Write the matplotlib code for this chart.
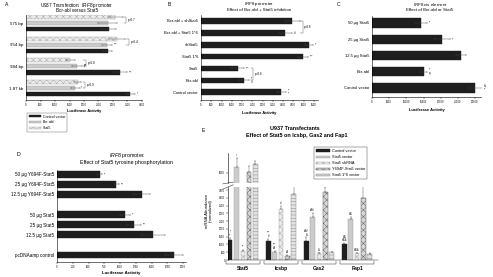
import numpy as np
import matplotlib.pyplot as plt
from matplotlib.patches import Patch

plt.rcParams['font.family'] = ['Liberation Sans', 'DejaVu Sans']
plt.rcParams['mathtext.fontset'] = 'custom'
plt.rcParams['mathtext.rm'] = 'Liberation Sans'
plt.rcParams['mathtext.it'] = 'Liberation Sans:italic'
plt.rcParams['mathtext.bf'] = 'Liberation Sans:bold'
plt.rcParams['hatch.linewidth'] = 0.3
plt.rcParams['axes.linewidth'] = 0.4

# ---- panel A: IRF8 promoter constructs, Bcr-abl vs Stat5
a_constructs = ['575 bp', '954 bp', '984 bp', '1.87 kb']
a_stat5 = [3080, 3140, 1530, 1790]
a_stat5_err = [250, 280, 150, 120]
a_bcr = [2815, 2790, 1760, 1700]
a_bcr_err = [320, 180, 180, 150]
a_ctrl = [2850, 2815, 3250, 3600]
a_ctrl_err = [250, 150, 250, 150]
a_pvals = ['p=0.7', 'p=0.4', 'p=0.8', 'p=0.9']

# ---- panel B: Bcr-abl + Stat5 inhibition
b_labels = ['Bcr-abl + shStat5', 'Bcr-abl + Stat5 1*6', 'shStat5', 'Stat5 1*6',
            'Stat5', 'Bcr-abl', 'Control vector']
b_values = [4450, 4110, 5260, 4970, 1780, 2090, 3920]
b_err = [350, 330, 200, 250, 300, 250, 200]
b_marks = ['', '#', '**', '***', '***', '*\n#', '*\n**']

# ---- panel C: IRF8 cis element
c_labels = ['50 µg Stat5', '25 µg Stat5', '12.5 µg Stat5', 'Bcr-abl', 'Control vector']
c_values = [14200, 20300, 25900, 15000, 30000]
c_err = [1800, 2400, 1500, 1000, 2000]
c_marks = ['*', '**', '', '*\n§', '&\n**']

# ---- panel D: Stat5 tyrosine phosphorylation
d_labels = ['50 µg Y694F-Stat5', '25 µg Y694F-Stat5', '12.5 µg Y694F-Stat5',
            '50 µg Stat5', '25 µg Stat5', '12.5 µg Stat5', 'pcDNAamp control']
d_values = [677, 942, 1339, 1074, 1222, 1524, 1852]
d_err = [40, 40, 140, 80, 110, 190, 140]
d_marks = ['*', '**', '', '*', '**', '', '']

# ---- panel E: mRNA abundance in U937 transfectants
e_genes = ['Stat5', 'Icsbp', 'Gas2', 'Fap1']
e_series = ['Control vector', 'Stat5 vector', 'Stat5 shRNA',
            'Y694F-Stat5 vector', 'Stat5 1*6 vector']
e_control = [1300, 1240, 1200, 1040]
e_control_err = [100, 120, 250, 60]
e_stat5 = [6300, 540, 2760, 2670]
e_stat5_err = [450, 60, 240, 80]
e_shrna = [610, 3260, 430, 430]
e_shrna_err = [50, 200, 30, 50]
e_y694f = [6050, 260, 4390, 3980]
e_y694f_err = [300, 50, 280, 800]
e_1x6 = [6450, 4240, 500, 370]
e_1x6_err = [150, 540, 30, 50]
e_marks = [['*\n**', '*', '**', '', ''],
           ['***\n#', '***\n##', '#', '##', ''],
           ['###\n&', '###', '&', '', ''],
           ['&&\n&&&', '&&', '&&&', '', '']]

W, H = 493, 277
fig = plt.figure(figsize=(W / 100, H / 100), dpi=100)


def box(x0, y0, x1, y1):
    return [x0 / W, 1 - y1 / H, (x1 - x0) / W, (y1 - y0) / H]


def style_h(ax, xmax, step, fs=3.0):
    ax.set_xlim(0, xmax)
    ax.set_xticks(np.arange(0, xmax + 1, step))
    ax.tick_params(axis='x', labelsize=1.9, length=1.2, width=0.3, pad=1)
    ax.tick_params(axis='y', labelsize=fs, length=0, pad=2)
    for s in ['top', 'right']:
        ax.spines[s].set_visible(False)


STY = {
    'black': dict(color='#1e1e1e', edgecolor='#1e1e1e', lw=0.3),
    'gray': dict(color='#cbcbcb', edgecolor='#9a9a9a', lw=0.3),
    'check': dict(color='#ececec', edgecolor='#a0a0a0', hatch='xxxxx', lw=0.3),
    'cross': dict(color='#d6d6d6', edgecolor='#555555', hatch='xxxxx', lw=0.3),
    'lines': dict(color='#e2e2e2', edgecolor='#808080', hatch='-----', lw=0.3),
}
ERR = dict(elinewidth=0.3, capsize=0.8, capthick=0.3, ecolor='#444444')

# ================= A =================
ax = fig.add_axes(box(26, 15, 142, 100))
y = np.arange(len(a_constructs))
off = 0.28
ax.barh(y - off, a_stat5, height=0.19, xerr=a_stat5_err, error_kw=ERR, **STY['check'])
ax.barh(y, a_bcr, height=0.19, xerr=a_bcr_err, error_kw=ERR, **STY['gray'])
ax.barh(y + off, a_ctrl, height=0.19, xerr=a_ctrl_err, error_kw=ERR, **STY['black'])
ax.set_yticks(y)
ax.set_yticklabels(a_constructs)
ax.set_ylim(3.55, -0.37)
style_h(ax, 4000, 500, fs=3.2)
ax.set_xlabel('Luciferase Activity', fontsize=2.8, fontweight='bold', labelpad=1.5)
for i in range(len(a_constructs)):
    xb = max(a_stat5[i] + a_stat5_err[i], a_bcr[i] + a_bcr_err[i]) + 120
    ax.plot([xb - 80, xb, xb, xb - 80], [y[i] - off, y[i] - off, y[i], y[i]],
            color='#555', lw=0.3, clip_on=False)
    ax.text(xb + 60, y[i] - off / 2, a_pvals[i], fontsize=2.2, va='center')
ax.text(a_bcr[1] + a_bcr_err[1] + 60, 1, '***', fontsize=2.2, va='center')
ax.text(a_bcr[2] + a_bcr_err[2] + 60, 2, 'ns\n**', fontsize=2.0, va='center', linespacing=0.8)
ax.text(a_ctrl[2] + a_ctrl_err[2] + 60, 2 + off, '***', fontsize=2.2, va='center')
ax.text(a_bcr[3] + a_bcr_err[3] + 60, 3, '*', fontsize=2.2, va='center')
ax.text(a_ctrl[3] + a_ctrl_err[3] + 60, 3 + off, '*', fontsize=2.2, va='center')

fig.text(5 / W, 1 - 6 / H, 'A', fontsize=3.6)
fig.text(77 / W, 1 - 5 / H, r'U937 Transfection:  $\it{IRF8}$ promoter', fontsize=3.3,
         ha='center', va='center')
fig.text(77 / W, 1 - 10.5 / H, 'Bcr-abl versus Stat5', fontsize=3.3, ha='center', va='center')
handles = [Patch(facecolor=STY[s]['color'], edgecolor=STY[s]['edgecolor'],
                 hatch=STY[s].get('hatch'), lw=0.3) for s in ['black', 'gray', 'check']]
leg = fig.legend(handles, ['Control vector', 'Bcr-abl', 'Stat5'], loc='upper left',
                 bbox_to_anchor=(25 / W, 1 - 111 / H), fontsize=2.6, frameon=True,
                 fancybox=False, edgecolor='#333', handlelength=3.4, handleheight=0.45,
                 labelspacing=0.45, borderpad=0.5, handletextpad=0.6)
leg.get_frame().set_linewidth(0.3)

# ================= B =================
ax = fig.add_axes(box(201, 15, 318, 100))
y = np.arange(len(b_labels))
ax.barh(y, b_values, height=0.48, xerr=b_err, error_kw=ERR, **STY['black'])
ax.set_yticks(y)
ax.set_yticklabels(b_labels)
ax.set_ylim(6.65, -0.5)
style_h(ax, 5700, 500, fs=2.9)
ax.set_xticks(np.arange(0, 5501, 500))
ax.set_xlabel('Luciferase Activity', fontsize=2.8, fontweight='bold', labelpad=3)
for i, m in enumerate(b_marks):
    if m:
        ax.text(b_values[i] + b_err[i] + 100, y[i], m, fontsize=2.2, va='center',
                linespacing=0.8)
for (i0, i1, xb) in [(0, 1, 4950), (4, 5, 2550)]:
    ax.plot([xb - 120, xb, xb, xb - 120], [i0, i0, i1, i1], color='#555', lw=0.3,
            clip_on=False)
    ax.text(xb + 80, (i0 + i1) / 2, 'p=0.6', fontsize=2.2, va='center')
fig.text(168 / W, 1 - 6 / H, 'B', fontsize=3.6)
fig.text(259 / W, 1 - 4.5 / H, r'$\it{IRF8}$ promoter', fontsize=3.2, ha='center', va='center')
fig.text(259 / W, 1 - 10 / H, 'Effect of Bcr-abl + Stat5 inhibition', fontsize=3.2,
         ha='center', va='center')

# ================= C =================
ax = fig.add_axes(box(372, 16, 481, 97))
y = np.arange(len(c_labels))
ax.barh(y, c_values, height=0.58, xerr=c_err, error_kw=ERR, **STY['black'])
ax.set_yticks(y)
ax.set_yticklabels(c_labels)
ax.set_ylim(4.56, -0.43)
style_h(ax, 31700, 5000, fs=3.0)
ax.set_xlabel('Luciferase Activity', fontsize=2.9, fontweight='bold', labelpad=2.5)
for i, m in enumerate(c_marks):
    if m:
        ax.text(c_values[i] + c_err[i] + 500, y[i], m, fontsize=2.2, va='center',
                linespacing=0.8)
fig.text(337 / W, 1 - 6 / H, 'C', fontsize=3.6)
fig.text(430 / W, 1 - 4.5 / H, r'$\it{IRF8}$ cis element', fontsize=3.2, ha='center', va='center')
fig.text(430 / W, 1 - 10 / H, 'Effect of Bcr-abl or Stat5', fontsize=3.2,
         ha='center', va='center')

# ================= D =================
ax = fig.add_axes(box(57, 170, 186, 262))
y = np.array([0, 1, 2, 4, 5, 6, 8])
ax.barh(y, d_values, height=0.65, xerr=d_err, error_kw=ERR, **STY['black'])
ax.set_yticks(y)
ax.set_yticklabels(d_labels)
ax.set_ylim(8.7, -0.42)
style_h(ax, 2043, 250, fs=3.3)
ax.set_xticks(np.arange(0, 2001, 250))
ax.set_xlabel('Luciferase Activity', fontsize=3.2, fontweight='bold', labelpad=1.5)
for i, m in enumerate(d_marks):
    if m:
        ax.text(d_values[i] + d_err[i] + 25, y[i], m, fontsize=2.4, va='center')
fig.text(17 / W, 1 - 156 / H, 'D', fontsize=3.8)
fig.text(127 / W, 1 - 156 / H, r'$\it{IRF8}$ promoter:', fontsize=3.8, ha='center', va='center')
fig.text(127 / W, 1 - 162.5 / H, 'Effect of Stat5 tyrosine phosphorylation', fontsize=3.8,
         ha='center', va='center')

# ================= E =================
axu = fig.add_axes(box(228, 153, 378, 183))
axl = fig.add_axes(box(228, 187, 378, 260))
x = np.arange(len(e_genes))
step, bw = 0.166, 0.12
series = [(e_control, e_control_err, 'black'), (e_stat5, e_stat5_err, 'gray'),
          (e_shrna, e_shrna_err, 'check'), (e_y694f, e_y694f_err, 'cross'),
          (e_1x6, e_1x6_err, 'lines')]
for k, (vals, errs, st) in enumerate(series):
    xs = x + (k - 2) * step
    for a in (axu, axl):
        a.bar(xs, vals, width=bw, yerr=[np.zeros(len(errs)), errs], error_kw=ERR, **STY[st])
xlim = (-0.39, 3.55)
axl.set_ylim(0, 4700)
axu.set_ylim(5500, 7000)
for a in (axu, axl):
    a.set_xlim(*xlim)
    a.set_xticks([])
    for s in ['top', 'right', 'bottom']:
        a.spines[s].set_visible(False)
    a.tick_params(axis='y', labelsize=1.9, length=1.2, width=0.3, pad=1)
axl.set_yticks(np.arange(0, 4501, 500))
axu.set_yticks([6000])
# break marks on the y axis
for a, yy in [(axu, 0.0), (axl, 1.0)]:
    a.plot([-0.035, 0.035], [yy - 0.03, yy + 0.03], transform=a.transAxes,
           color='#333', lw=0.4, clip_on=False)
# group brackets under the bars
tr = axl.get_xaxis_transform()
for i in range(len(e_genes)):
    l, r = i - 0.45, i + 0.45
    axl.plot([l, l, r, r], [-0.01, -0.05, -0.05, -0.01], transform=tr, color='#333',
             lw=0.35, clip_on=False)
    axl.text(i, -0.08, e_genes[i], transform=tr, ha='center', va='top', fontsize=3.6,
             fontweight='bold')
axl.plot(xlim, [0, 0], color='#333', lw=0.35, clip_on=False)
for i in range(len(e_genes)):
    for k, (vals, errs, st) in enumerate(series):
        m = e_marks[i][k]
        if not m:
            continue
        top = vals[i] + errs[i]
        a = axu if top > 4700 else axl
        a.text(x[i] + (k - 2) * step, top + (60 if a is axl else 30), m, ha='center',
               va='bottom', fontsize=2.0, linespacing=0.8)
fig.text(209 / W, 1 - 211 / H, 'mRNA Abundance\n(normalized)', rotation=90, fontsize=3.1,
         ha='center', va='center', linespacing=1.0)
fig.text(202 / W, 1 - 132 / H, 'E', fontsize=3.8)
fig.text(295 / W, 1 - 128 / H, 'U937 Transfectants', fontsize=3.9, fontweight='bold',
         ha='center', va='center')
fig.text(297 / W, 1 - 135 / H, 'Effect of Stat5 on Icsbp, Gas2 and Fap1', fontsize=3.9,
         fontweight='bold', ha='center', va='center')
h2 = [Patch(facecolor=STY[s]['color'], edgecolor=STY[s]['edgecolor'],
            hatch=STY[s].get('hatch'), lw=0.3) for s in ['black', 'gray', 'check', 'cross', 'lines']]
leg = fig.legend(h2, e_series, loc='upper left', bbox_to_anchor=(312 / W, 1 - 145 / H),
                 fontsize=2.8, frameon=True, fancybox=False, edgecolor='#333',
                 handlelength=3.6, handleheight=0.5, labelspacing=0.55, borderpad=0.5,
                 handletextpad=0.6, framealpha=1)
leg.get_frame().set_linewidth(0.3)

fig.savefig('out.png', dpi=100)
